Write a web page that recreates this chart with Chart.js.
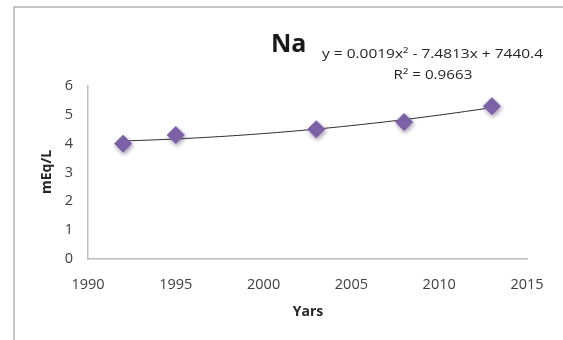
<!DOCTYPE html>
<html>
<head>
<meta charset="utf-8">
<script src="https://cdn.jsdelivr.net/npm/chart.js@4"></script>
<style>
  html, body { margin: 0; padding: 0; background: #fff; }
  #wrap { position: relative; width: 563px; height: 340px; }
  canvas { display: block; }
</style>
</head>
<body>
<div id="wrap"><canvas id="c" width="563" height="340"></canvas></div>
<script>
// Sodium measurements per sampling year
const years = [1992, 1995, 2003, 2008, 2013];
const naValues = [4.0, 4.3, 4.5, 4.75, 5.3];
const xTicks = [1990, 1995, 2000, 2005, 2010, 2015];
const yTicks = [0, 1, 2, 3, 4, 5, 6];
const chartTitle = 'Na';
const equationLines = ['y = 0.0019x² - 7.4813x + 7440.4', 'R² = 0.9663'];
const xTitle = 'Yars';
const yTitle = 'mEq/L';

// Second-order polynomial least-squares fit (years centred on 2000 for stability)
function quadFit(xs, ys) {
  const n = xs.length;
  let s = [0, 0, 0, 0, 0], t = [0, 0, 0];
  for (let i = 0; i < n; i++) {
    const x = xs[i] - 2000, y = ys[i];
    let p = 1;
    for (let k = 0; k < 5; k++) { s[k] += p; if (k < 3) t[k] += p * y; p *= x; }
  }
  const A = [[s[0], s[1], s[2], t[0]], [s[1], s[2], s[3], t[1]], [s[2], s[3], s[4], t[2]]];
  for (let i = 0; i < 3; i++) {
    for (let j = i + 1; j < 3; j++) {
      const f = A[j][i] / A[i][i];
      for (let k = i; k < 4; k++) A[j][k] -= f * A[i][k];
    }
  }
  const c = [0, 0, 0];
  for (let i = 2; i >= 0; i--) {
    let v = A[i][3];
    for (let k = i + 1; k < 3; k++) v -= A[i][k] * c[k];
    c[i] = v / A[i][i];
  }
  return x => c[0] + c[1] * (x - 2000) + c[2] * (x - 2000) * (x - 2000);
}
const fit = quadFit(years, naValues);
const trend = [];
for (let x = years[0]; x <= years[years.length - 1] + 1e-9; x += 0.25) trend.push({ x: x, y: fit(x) });

const points = years.map((x, i) => ({ x: x, y: naValues[i] }));

const FONT = "'Open Sans', 'Liberation Sans', sans-serif";

// Frame, heading, regression label and axis titles
const decor = {
  id: 'decor',
  beforeDraw(chart) {
    const ctx = chart.ctx;
    ctx.save();
    ctx.strokeStyle = '#b4b4b4';
    ctx.lineWidth = 1.5;
    ctx.beginPath();
    ctx.moveTo(14, 340);
    ctx.lineTo(14, 7);
    ctx.lineTo(563, 7);
    ctx.stroke();
    ctx.restore();
  },
  afterDraw(chart) {
    const ctx = chart.ctx;
    ctx.save();
    ctx.fillStyle = '#1a1a1a';
    ctx.textBaseline = 'middle';
    ctx.textAlign = 'left';
    ctx.font = 'bold 25px ' + FONT;
    ctx.fillText(chartTitle, 271, 45);

    // regression equation, slightly widened
    ctx.fillStyle = '#262626';
    ctx.font = '13px ' + FONT;
    ctx.save();
    ctx.translate(322, 54);
    ctx.scale(1.19, 1);
    ctx.textAlign = 'left';
    ctx.fillText(equationLines[0], 0, 0);
    ctx.restore();
    ctx.save();
    ctx.translate(433, 75);
    ctx.scale(1.17, 1);
    ctx.textAlign = 'center';
    ctx.fillText(equationLines[1], 0, 0);
    ctx.restore();

    ctx.textAlign = 'center';
    ctx.font = 'bold 14px ' + FONT;
    ctx.fillText(xTitle, 308, 312);
    ctx.translate(47, 172);
    ctx.rotate(-Math.PI / 2);
    ctx.fillText(yTitle, 0, 0);
    ctx.restore();
  }
};

// Soft drop shadow under the diamond markers
const markerShadow = {
  id: 'markerShadow',
  beforeDatasetDraw(chart, args) {
    if (args.index === 1) {
      chart.ctx.save();
      chart.ctx.shadowColor = 'rgba(60,40,90,0.45)';
      chart.ctx.shadowBlur = 4;
      chart.ctx.shadowOffsetX = 1;
      chart.ctx.shadowOffsetY = 2;
    }
  },
  afterDatasetDraw(chart, args) {
    if (args.index === 1) chart.ctx.restore();
  }
};

new Chart(document.getElementById('c'), {
  type: 'scatter',
  data: {
    datasets: [
      {
        type: 'line',
        label: 'Poly. (Na)',
        data: trend,
        borderColor: '#2b2b2b',
        borderWidth: 1,
        pointRadius: 0,
        tension: 0,
        fill: false,
        order: 2
      },
      {
        label: 'Na',
        data: points,
        pointStyle: 'rectRot',
        pointRadius: 8.5,
        pointBackgroundColor: '#7f64aa',
        pointBorderColor: '#7f64aa',
        pointBorderWidth: 1,
        order: 1
      }
    ]
  },
  options: {
    responsive: false,
    animation: false,
    events: [],
    layout: { padding: { top: 86, right: 36, bottom: 0, left: 0 } },
    plugins: { legend: { display: false }, tooltip: { enabled: false }, title: { display: false } },
    scales: {
      x: {
        type: 'linear',
        min: xTicks[0],
        max: xTicks[xTicks.length - 1],
        afterBuildTicks(scale) { scale.ticks = xTicks.map(v => ({ value: v })); },
        afterFit(scale) { scale.height = 81; },
        grid: { display: true, drawOnChartArea: false, drawTicks: false, tickLength: 0 },
        border: { display: true, color: '#bfbfbf', width: 1.5 },
        ticks: {
          padding: 17,
          color: '#404040',
          font: { family: FONT, size: 14.5 },
          callback: v => String(v),
          maxRotation: 0
        }
      },
      y: {
        min: yTicks[0],
        max: yTicks[yTicks.length - 1],
        afterBuildTicks(scale) { scale.ticks = yTicks.map(v => ({ value: v })); },
        afterFit(scale) { scale.width = 88; },
        grid: { display: true, drawOnChartArea: false, drawTicks: false, tickLength: 0 },
        border: { display: true, color: '#bfbfbf', width: 1.5 },
        ticks: {
          padding: 15,
          color: '#404040',
          font: { family: FONT, size: 14.5 },
          callback: v => String(v)
        }
      }
    }
  },
  plugins: [decor, markerShadow]
});
</script>
</body>
</html>
